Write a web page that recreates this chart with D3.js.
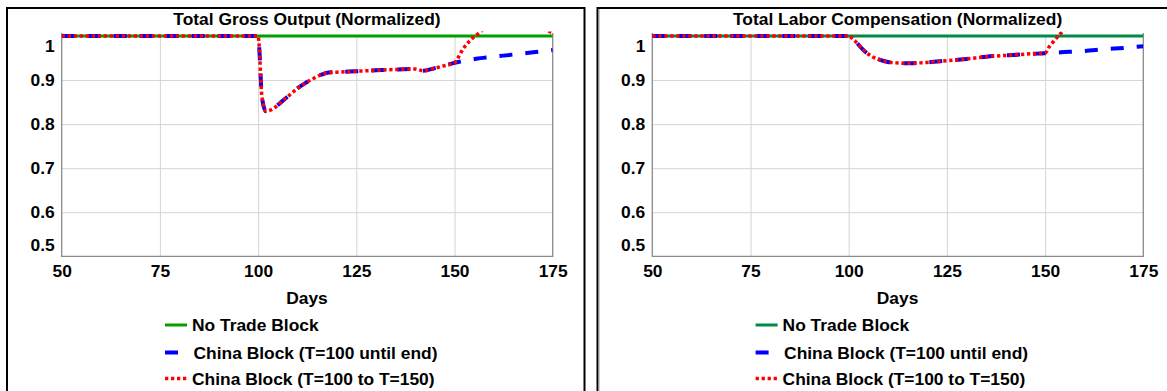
<!DOCTYPE html>
<html>
<head>
<meta charset="utf-8">
<script src="https://cdn.jsdelivr.net/npm/d3@7"></script>
<style>
  body { margin: 0; background: #fff; }
  text { font-family: "Liberation Sans", Arial, sans-serif; font-weight: bold; fill: #000; }
</style>
</head>
<body>
<div id="chart"></div>
<script>
// x axis ticks and y ticks
var xTicks = [50, 75, 100, 125, 150, 175]
var yTicks = [0.5, 0.6, 0.7, 0.8, 0.9, 1]

var days = [50, 100, 101, 102, 104, 106, 108, 110, 112, 114, 116, 118, 120, 125, 130, 135, 140, 142, 145, 148, 150, 151, 152, 154, 156, 158, 160, 165, 170, 175]

// Total Gross Output (Normalized)
var grossNoBlock = [1, 1, 1, 1, 1, 1, 1, 1, 1, 1, 1, 1, 1, 1, 1, 1, 1, 1, 1, 1, 1, 1, 1, 1, 1, 1, 1, 1, 1, 1]
var grossBlockEnd = [1, 1, 0.86, 0.829, 0.836, 0.851, 0.866, 0.881, 0.893, 0.903, 0.912, 0.917, 0.918, 0.92, 0.922, 0.924, 0.925, 0.921, 0.927, 0.934, 0.939, 0.941, 0.943, 0.946, 0.949, 0.951, 0.953, 0.958, 0.963, 0.968]
var grossBlock150 = [1, 1, 0.86, 0.829, 0.836, 0.851, 0.866, 0.881, 0.893, 0.903, 0.912, 0.917, 0.918, 0.92, 0.922, 0.924, 0.925, 0.921, 0.927, 0.934, 0.939, 0.952, 0.968, 0.99, 1.005, 1.02, 1.03, 1.035, 1.025, 1.007]

// Total Labor Compensation (Normalized)
var laborNoBlock = [1, 1, 1, 1, 1, 1, 1, 1, 1, 1, 1, 1, 1, 1, 1, 1, 1, 1, 1, 1, 1, 1, 1, 1, 1, 1, 1, 1, 1, 1]
var laborBlockEnd = [1, 1, 0.994, 0.985, 0.966, 0.953, 0.946, 0.941, 0.939, 0.938, 0.938, 0.939, 0.94, 0.944, 0.948, 0.953, 0.956, 0.957, 0.959, 0.96, 0.961, 0.961, 0.962, 0.963, 0.964, 0.965, 0.966, 0.97, 0.973, 0.977]
var laborBlock150 = [1, 1, 0.994, 0.985, 0.966, 0.953, 0.946, 0.941, 0.939, 0.938, 0.938, 0.939, 0.94, 0.944, 0.948, 0.953, 0.956, 0.957, 0.959, 0.96, 0.961, 0.975, 0.986, 1.006, 1.02, 1.03, 1.035, 1.04, 1.035, 1.025]

var legendLabels = ["No Trade Block", "China Block (T=100 until end)", "China Block (T=100 to T=150)"]

var fontSize = "17.4px"

var svg = d3.select("#chart")
  .append("svg")
  .attr("width", 1167)
  .attr("height", 391)

svg.append("rect").attr("width", 1167).attr("height", 391).attr("fill", "#fff")

// panel frames
svg.append("path")
  .attr("d", "M7,400 V8 H584.5 V400")
  .attr("fill", "none").attr("stroke", "#000").attr("stroke-width", 2)
svg.append("path")
  .attr("d", "M597.5,400 V8 H1170")
  .attr("fill", "none").attr("stroke", "#000").attr("stroke-width", 2)
svg.append("line")
  .attr("x1", 599).attr("x2", 599).attr("y1", 9).attr("y2", 400)
  .attr("stroke", "#999").attr("stroke-width", 1)

function drawPanel(id, offset, title, green, series) {
  var g = svg.append("g").attr("transform", "translate(" + offset + ",0)")

  var x = d3.scaleLinear().domain([50, 175]).range([61.7, 552.7])
  var y = d3.scaleLinear().domain([0.5, 1]).range([256.3, 36])

  // vertical grid
  g.append("g")
    .attr("transform", "translate(0,256.3)")
    .call(d3.axisBottom(x).tickValues(xTicks.slice(1, -1)).tickSize(-220.3).tickFormat(""))
    .call(function(a) { a.select(".domain").remove() })
    .selectAll("line").attr("stroke", "#d4d4d4")

  // horizontal grid
  g.append("g")
    .attr("transform", "translate(61.7,0)")
    .call(d3.axisLeft(y).tickValues(yTicks.slice(1, -1)).tickSize(-491).tickFormat(""))
    .call(function(a) { a.select(".domain").remove() })
    .selectAll("line").attr("stroke", "#d4d4d4")

  // axis frame (left, bottom, right)
  g.append("path")
    .attr("d", "M61.7,33 V256.3 H552.7 V33")
    .attr("fill", "none").attr("stroke", "#8a8a8a").attr("stroke-width", 1.3)

  // x tick labels
  var xa = g.append("g")
    .attr("transform", "translate(0,256.3)")
    .call(d3.axisBottom(x).tickValues(xTicks).tickSize(0).tickPadding(0).tickFormat(d3.format("d")))
  xa.select(".domain").remove()
  xa.selectAll("text")
    .attr("dy", null).attr("y", 20.5)
    .style("font-size", fontSize).style("font-family", null)

  // y tick labels (end labels kept inside plot range)
  var ya = g.append("g")
    .attr("transform", "translate(61.7,0)")
    .call(d3.axisLeft(y).tickValues(yTicks).tickSize(0).tickPadding(7).tickFormat(function(d) { return d === 1 ? "1" : d3.format(".1f")(d) }))
  ya.select(".domain").remove()
  ya.selectAll(".tick")
    .attr("transform", function(d) {
      return "translate(0," + Math.min(Math.max(y(d), 46.3), 245) + ")"
    })
  ya.selectAll("text")
    .attr("dy", "0.35em")
    .style("font-size", fontSize).style("font-family", null)

  // title and axis label
  g.append("text")
    .attr("x", 307).attr("y", 25)
    .attr("text-anchor", "middle")
    .style("font-size", fontSize)
    .text(title)
  g.append("text")
    .attr("x", 307).attr("y", 304)
    .attr("text-anchor", "middle")
    .style("font-size", fontSize)
    .text("Days")

  // clip
  g.append("clipPath").attr("id", "clip" + id)
    .append("rect").attr("x", 61.7).attr("y", 31.5).attr("width", 491).attr("height", 225)

  var line = d3.line()
    .x(function(d, i) { return x(days[i]) })
    .y(function(d) { return y(d) })
    .curve(d3.curveMonotoneX)

  var styles = [
    { color: green, width: 3, dash: null },
    { color: "#0000ff", width: 4, dash: "13,13" },
    { color: "#ff0000", width: 3.5, dash: "3.3,2.7" }
  ]

  var lines = g.append("g").attr("clip-path", "url(#clip" + id + ")")
  series.forEach(function(s, k) {
    lines.append("path")
      .attr("d", line(s))
      .attr("fill", "none")
      .attr("stroke", styles[k].color)
      .attr("stroke-width", styles[k].width)
      .attr("stroke-dasharray", styles[k].dash)
  })

  // legend
  var rows = [325, 352.5, 378.5]
  legendLabels.forEach(function(lab, k) {
    g.append("line")
      .attr("x1", 165).attr("x2", 187)
      .attr("y1", rows[k]).attr("y2", rows[k])
      .attr("stroke", styles[k].color)
      .attr("stroke-width", styles[k].width)
      .attr("stroke-dasharray", styles[k].dash)
    g.append("text")
      .attr("x", k === 1 ? 193.5 : 192).attr("y", rows[k] + 6)
      .style("font-size", fontSize)
      .text(lab)
  })
}

drawPanel("a", 0, "Total Gross Output (Normalized)", "#00a000", [grossNoBlock, grossBlockEnd, grossBlock150])
drawPanel("b", 590.6, "Total Labor Compensation (Normalized)", "#008a45", [laborNoBlock, laborBlockEnd, laborBlock150])
</script>
</body>
</html>
